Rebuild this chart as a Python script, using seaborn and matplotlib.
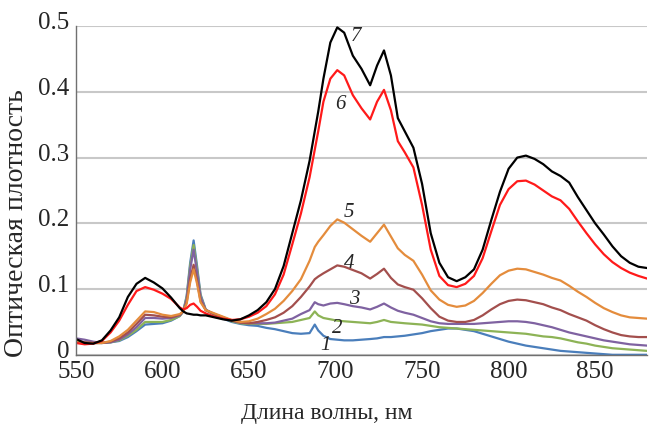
import pandas as pd
import seaborn as sns
import matplotlib.pyplot as plt
from matplotlib.ticker import MultipleLocator, FuncFormatter
from matplotlib.transforms import ScaledTranslation

# Wavelength grid (nm)
wavelength = [550, 555, 560, 565, 570, 575, 580, 585, 590, 595, 600, 605, 610,
              612, 614, 616, 618, 620, 622, 625,
              630, 635, 640, 645, 650, 655, 660, 665, 670, 675, 680, 685,
              688, 690, 693, 697, 701, 705,
              710, 715, 720, 724, 728, 732, 736, 740, 745,
              750, 755, 760, 765, 770, 775, 780, 785, 790, 795, 800, 805, 810,
              815, 820, 825, 830, 835, 840, 845, 850, 855, 860, 865, 870, 875, 880]

curve_1 = [0.020, 0.019, 0.018, 0.018, 0.019, 0.021, 0.027, 0.036, 0.046, 0.047, 0.048, 0.052, 0.059,
           0.066, 0.090, 0.140, 0.174, 0.135, 0.092, 0.069,
           0.061, 0.055, 0.050, 0.047, 0.045, 0.044, 0.041, 0.039, 0.036, 0.033, 0.032, 0.033,
           0.046, 0.037, 0.029, 0.024, 0.023, 0.022,
           0.022, 0.023, 0.024, 0.025, 0.027, 0.027, 0.028, 0.029, 0.031,
           0.033, 0.036, 0.038, 0.040, 0.040, 0.038, 0.036, 0.032, 0.028, 0.024, 0.020, 0.017, 0.014,
           0.012, 0.010, 0.008, 0.006, 0.005, 0.004, 0.003, 0.002, 0.001, 0.000, 0.000, 0.000, 0.000, 0.000]

curve_2 = [0.021, 0.019, 0.018, 0.018, 0.019, 0.022, 0.029, 0.038, 0.050, 0.050, 0.050, 0.053, 0.059,
           0.066, 0.088, 0.135, 0.167, 0.130, 0.090, 0.068,
           0.061, 0.056, 0.051, 0.048, 0.047, 0.047, 0.047, 0.048, 0.049, 0.050, 0.053, 0.056,
           0.066, 0.060, 0.056, 0.054, 0.052, 0.051,
           0.050, 0.049, 0.048, 0.050, 0.053, 0.050, 0.049, 0.048, 0.047,
           0.046, 0.044, 0.042, 0.041, 0.040, 0.039, 0.038, 0.037, 0.036, 0.035, 0.034, 0.033, 0.032,
           0.030, 0.028, 0.027, 0.025, 0.022, 0.019, 0.017, 0.014, 0.012, 0.010, 0.009, 0.008, 0.007, 0.006]

curve_3 = [0.025, 0.023, 0.020, 0.018, 0.019, 0.023, 0.031, 0.042, 0.056, 0.056, 0.055, 0.056, 0.060,
           0.066, 0.085, 0.130, 0.160, 0.125, 0.088, 0.068,
           0.062, 0.057, 0.052, 0.049, 0.048, 0.048, 0.048, 0.049, 0.052, 0.055, 0.062, 0.068,
           0.080, 0.077, 0.075, 0.078, 0.079, 0.077,
           0.074, 0.072, 0.069, 0.073, 0.078, 0.072, 0.067, 0.064, 0.061,
           0.056, 0.051, 0.048, 0.047, 0.047, 0.047, 0.047, 0.048, 0.049, 0.050, 0.051, 0.051, 0.050,
           0.048, 0.045, 0.042, 0.038, 0.034, 0.031, 0.028, 0.025, 0.022, 0.020, 0.018, 0.016, 0.015, 0.014]

curve_4 = [0.021, 0.019, 0.018, 0.018, 0.020, 0.025, 0.034, 0.047, 0.061, 0.060, 0.058, 0.057, 0.061,
           0.066, 0.080, 0.115, 0.137, 0.112, 0.082, 0.068,
           0.062, 0.057, 0.052, 0.049, 0.048, 0.050, 0.053, 0.057, 0.064, 0.074, 0.088, 0.104,
           0.115, 0.119, 0.124, 0.130, 0.136, 0.134,
           0.129, 0.124, 0.116, 0.123, 0.131, 0.117, 0.107, 0.103, 0.099,
           0.086, 0.071, 0.058, 0.052, 0.050, 0.050, 0.053, 0.060, 0.069, 0.077, 0.082, 0.084, 0.083,
           0.080, 0.077, 0.072, 0.068, 0.062, 0.057, 0.052, 0.045, 0.039, 0.034, 0.030, 0.028, 0.027, 0.027]

curve_5 = [0.022, 0.018, 0.018, 0.018, 0.021, 0.028, 0.038, 0.052, 0.066, 0.065, 0.061, 0.059, 0.062,
           0.066, 0.078, 0.110, 0.130, 0.108, 0.080, 0.068,
           0.063, 0.058, 0.053, 0.050, 0.051, 0.055, 0.062, 0.070, 0.082, 0.097, 0.115, 0.143,
           0.164, 0.172, 0.182, 0.196, 0.206, 0.201,
           0.191, 0.181, 0.172, 0.185, 0.198, 0.180, 0.162, 0.152, 0.143,
           0.122, 0.098, 0.084, 0.076, 0.073, 0.075, 0.082, 0.094, 0.108, 0.121, 0.128, 0.131, 0.130,
           0.126, 0.122, 0.117, 0.113, 0.105, 0.096, 0.088, 0.079, 0.071, 0.065, 0.060, 0.057, 0.056, 0.055]

curve_6 = [0.018, 0.016, 0.017, 0.021, 0.034, 0.052, 0.076, 0.097, 0.103, 0.099, 0.093, 0.085, 0.072,
           0.069, 0.071, 0.076, 0.078, 0.073, 0.067, 0.063,
           0.058, 0.055, 0.053, 0.054, 0.058, 0.064, 0.074, 0.092, 0.122, 0.168, 0.215, 0.270,
           0.312, 0.340, 0.385, 0.420, 0.433, 0.425,
           0.395, 0.375, 0.358, 0.385, 0.403, 0.372, 0.325, 0.308, 0.285,
           0.228, 0.160, 0.120, 0.106, 0.103, 0.108, 0.120, 0.147, 0.188, 0.228, 0.252, 0.264, 0.265,
           0.259, 0.250, 0.241, 0.235, 0.222, 0.203, 0.185, 0.168, 0.153, 0.141, 0.132, 0.125, 0.120, 0.116]

curve_7 = [0.024, 0.018, 0.017, 0.022, 0.037, 0.057, 0.088, 0.108, 0.117, 0.110, 0.101, 0.087, 0.071,
           0.066, 0.063, 0.062, 0.061, 0.061, 0.060, 0.060,
           0.057, 0.054, 0.052, 0.054, 0.060, 0.068, 0.080, 0.100, 0.135, 0.185, 0.235, 0.295,
           0.340, 0.370, 0.420, 0.475, 0.498, 0.490,
           0.455, 0.435, 0.410, 0.440, 0.463, 0.425, 0.360, 0.340, 0.315,
           0.260, 0.185, 0.140, 0.118, 0.112, 0.118, 0.130, 0.160, 0.205, 0.248, 0.283, 0.300, 0.303,
           0.298, 0.290, 0.279, 0.272, 0.262, 0.240, 0.220, 0.200, 0.183, 0.165, 0.150, 0.140, 0.134, 0.132]

curve_names = ["1", "2", "3", "4", "5", "6", "7"]
curve_colors = ["#4a7ebb", "#8db356", "#7f62a1", "#a34f4d", "#e48c3c", "#ff1a1a", "#000000"]
# label anchor positions (nm, optical density)
label_x = [694, 701, 711, 708, 708, 703, 712]
label_y = [0.014, 0.040, 0.084, 0.139, 0.217, 0.381, 0.484]

all_curves = [curve_1, curve_2, curve_3, curve_4, curve_5, curve_6, curve_7]
df = pd.concat([pd.DataFrame({"wl": wavelength, "od": c, "curve": n})
                for n, c in zip(curve_names, all_curves)], ignore_index=True)

sns.set_style("white")
plt.rcParams['font.family'] = ['Liberation Serif', 'DejaVu Serif']

fig = plt.figure(figsize=(6.49, 4.28), dpi=100)
ax = fig.add_axes([0.117, 0.171, 0.88, 0.768])

sns.lineplot(data=df, x="wl", y="od", hue="curve", palette=curve_colors,
             linewidth=1.6, legend=False, ax=ax)

for n, lx, ly in zip(curve_names, label_x, label_y):
    ax.text(lx, ly, n, fontsize=15, style="italic", ha="center", va="center")

ax.set_xlim(550, 880)
ax.set_ylim(0, 0.5)
ax.xaxis.set_major_locator(MultipleLocator(50))
ax.xaxis.set_minor_locator(MultipleLocator(10))
ax.yaxis.set_major_locator(MultipleLocator(0.1))
ax.yaxis.set_minor_locator(MultipleLocator(0.02))
ax.yaxis.set_major_formatter(FuncFormatter(lambda v, p: "0" if v == 0 else f"{v:.1f}"))

ax.yaxis.grid(True, color="#c8c8c8", linewidth=1.5)
ax.set_axisbelow(True)

for side in ["top", "right"]:
    ax.spines[side].set_visible(False)
for side in ["left", "bottom"]:
    ax.spines[side].set_color("#707070")
    ax.spines[side].set_linewidth(1.0)

ax.tick_params(which="major", direction="inout", length=7, color="#707070",
               labelsize=18, pad=1)
ax.tick_params(which="minor", direction="in", length=3, color="#707070")

# y tick labels sit a little above their ticks in the original
lift = ScaledTranslation(0, 4 / 72, fig.dpi_scale_trans)
for lbl in ax.get_yticklabels():
    lbl.set_transform(lbl.get_transform() + lift)

ax.set_xlabel("Длина волны, нм", fontsize=17)
ax.xaxis.set_label_coords(0.44, -0.148)
ax.set_ylabel("Оптическая плотность", fontsize=20)
ax.yaxis.set_label_coords(-0.083, 0.40)

fig.savefig("out.png", dpi=100)
